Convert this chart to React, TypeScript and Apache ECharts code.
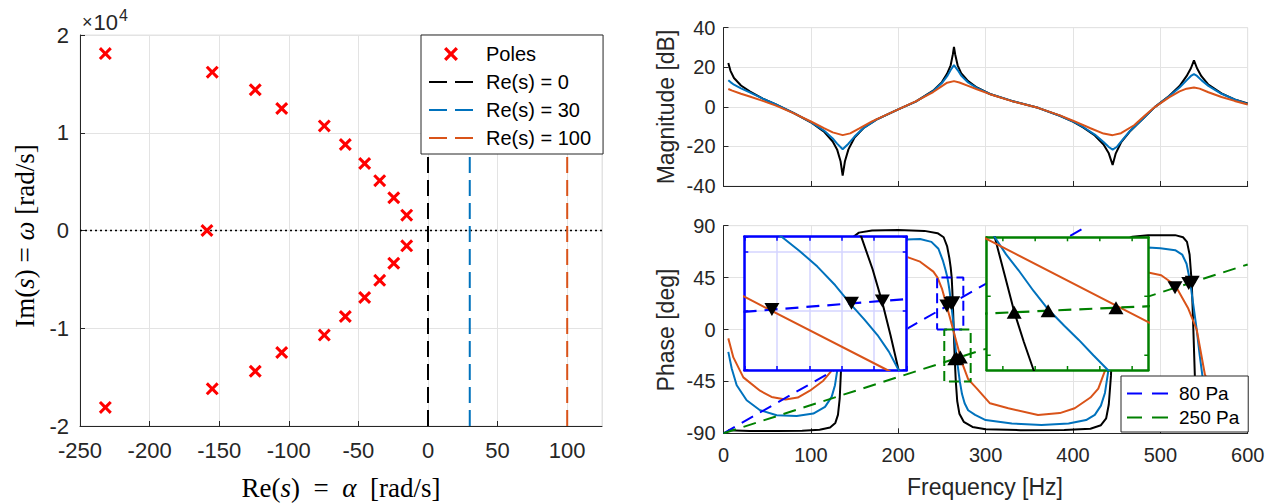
import React, { useEffect, useRef } from 'react';
import * as echarts from 'echarts';

// ---------- Left plot: pole map ----------
const poleRe = [-231.8, -155.0, -124.1, -105.1, -74.5, -59.4, -45.5, -34.7, -24.6, -15.3, -158.8,
  -15.3, -24.6, -34.7, -45.5, -59.4, -74.5, -105.1, -124.1, -155.0, -231.8];
const poleIm = [18100, 16200, 14400, 12480, 10700, 8800, 6850, 5100, 3350, 1570, 0,
  -1570, -3350, -5100, -6850, -8800, -10700, -12480, -14400, -16200, -18100];
const reLineNames = ['Re(s) = 0', 'Re(s) = 30', 'Re(s) = 100'];
const reLineValues = [0, 30, 100];
const reLineColors = ['#000000', '#0072BD', '#D95319'];
const leftXTicks = { min: -250, max: 125, interval: 50 };
const leftYTicks = { min: -20000, max: 20000, interval: 10000 };

// ---------- Right top: magnitude [Hz, dB] ----------
const magBlack = [[5.5, 22.2], [8, 18.2], [12, 14.6], [20, 10.8], [30, 7.8], [45, 4.2], [60, 1.2], [80, -3.0], [100, -7.8], [115, -12.5], [125, -17.5], [130, -21.5], [134, -27.5], [136.4, -34.8], [139, -27.5], [143, -21.5], [150, -15.5], [160, -10.8], [175, -6.5], [200, -1.3], [220, 2.6], [240, 8.2], [250, 12.5], [256, 16.8], [260, 21.0], [262.5, 26.5], [263.8, 30.3], [265.2, 26.5], [268, 21.0], [272, 17.0], [280, 13.0], [290, 9.8], [305, 6.5], [330, 3.0], [360, -0.5], [385, -4.5], [400, -7.5], [412, -10.5], [425, -14.5], [435, -19], [441, -23.5], [445.4, -29.4], [449, -23.5], [455, -18.0], [465, -12.5], [480, -6.0], [494, 0], [510, 5.5], [522, 10.5], [530, 15.5], [535, 19.5], [538.5, 23.5], [542, 19.5], [547, 15.5], [555, 11.2], [570, 6.8], [585, 3.8], [600, 1.7]];
const magBlue = [[5.5, 13.5], [8, 12.5], [12, 11.2], [20, 9.3], [30, 7.3], [45, 4.2], [60, 1.2], [80, -3.0], [100, -7.7], [115, -12.0], [125, -16.0], [130, -18.6], [136.4, -21.4], [143, -18.6], [150, -15.0], [160, -10.8], [175, -6.5], [200, -1.3], [220, 2.6], [240, 8.0], [250, 12.0], [256, 15.5], [260, 18.6], [263.8, 21.1], [268, 18.6], [272, 15.8], [280, 12.3], [290, 9.6], [305, 6.5], [330, 3.0], [360, -0.5], [385, -4.5], [400, -7.4], [412, -10.3], [425, -14.0], [435, -17.8], [441, -20.3], [445.4, -21.6], [450, -20.3], [455, -17.6], [465, -12.3], [480, -6.0], [494, 0], [510, 5.3], [522, 9.8], [530, 13.4], [535, 15.6], [538.5, 16.5], [542, 15.6], [547, 13.5], [555, 10.6], [570, 6.6], [585, 3.7], [600, 1.5]];
const magOrange = [[5.5, 9.0], [10, 8.2], [20, 6.6], [30, 5.2], [45, 3.0], [60, 0.6], [80, -3.2], [100, -7.4], [115, -10.8], [125, -12.9], [136.4, -14.3], [145, -13.4], [155, -11.0], [170, -7.3], [200, -1.3], [220, 2.8], [240, 7.5], [250, 10.5], [256, 12.2], [263.8, 13.0], [270, 12.3], [280, 10.6], [290, 8.9], [305, 6.4], [330, 2.9], [360, -0.5], [385, -4.3], [400, -7.0], [420, -10.8], [435, -13.5], [445.4, -14.3], [455, -13.3], [470, -9.3], [482, -4.5], [494, 0], [510, 4.8], [522, 7.8], [530, 9.2], [538.5, 9.8], [545, 9.2], [555, 7.4], [570, 5.0], [585, 3.0], [600, 1.2]];

// ---------- Right bottom: phase [Hz, deg] ----------
const phBlack = [[5.5, -87.3], [30, -88], [60, -88], [90, -87.8], [110, -87], [122, -85], [128, -81], [131, -74], [133, -60], [134.5, -35], [136.4, 0], [138, 35], [140, 60], [143, 73], [148, 80], [155, 84], [170, 85.8], [200, 86.2], [230, 85.5], [245, 83.5], [252, 80], [256, 72], [258.5, 62], [260, 54], [261.2, 45], [261.9, 34], [262.5, 22.8], [263.0, 11.8], [263.5, 0], [264.1, -12.5], [264.7, -25.2], [265.3, -35.5], [265.9, -45], [267.5, -62], [270, -73], [275, -80], [285, -84.5], [300, -86.5], [340, -87.3], [390, -87.2], [420, -86], [432, -83], [438, -77], [441, -65], [443.5, -40], [445.4, 0], [447, 35], [449, 58], [452, 70], [458, 77], [468, 80.5], [486, 81.8], [517, 81.8], [526, 80], [530.5, 76], [533.5, 65], [536, 40], [537.8, 0], [539.5, -40], [542, -65], [546, -78], [555, -85], [575, -87.5], [600, -88]];
const phBlue = [[5.5, -19.4], [9.4, -33.8], [15.1, -48.3], [26.5, -61.3], [41.8, -70], [60.9, -74.3], [83.7, -74.9], [102.8, -72.9], [116.2, -67.1], [123.8, -58.4], [127.6, -48.3], [130.3, -35], [133, -18], [136.4, 0], [140, 20], [145, 40], [152, 55], [165, 66], [185, 73], [209.6, 78], [225, 78.5], [238, 76], [246, 70], [251, 60], [254, 52], [256.3, 45], [257.4, 40.2], [258.5, 34.9], [259.6, 28.6], [260.6, 21.9], [261.4, 17.0], [262.2, 11.8], [262.9, 6.2], [263.5, 0], [264.2, -5.8], [264.96, -11.1], [265.9, -18.2], [266.8, -24.4], [267.8, -30], [268.7, -34.8], [269.6, -40], [270.5, -45], [273, -56], [276, -64], [280, -70], [288, -74], [300, -78.5], [330, -81.5], [364, -82.7], [395, -81.5], [415, -78.5], [425, -74], [432, -66], [436.6, -55], [440, -38], [443, -18], [445.4, 0], [448, 20], [452, 40], [458, 55], [468, 64], [486, 71.1], [500, 70.5], [517, 68.8], [525, 65], [530, 57], [534, 42], [538, 20], [541.6, 0], [545, -22], [549, -45], [555, -62], [565, -73], [580, -79], [600, -82]];
const phOrange = [[5.5, -7.7], [11.3, -24.2], [22.7, -41.5], [41.8, -53.1], [55, -58.5], [71, -60.7], [85, -59], [98.9, -53.1], [114.2, -44.4], [123.8, -35.7], [127.6, -31.4], [132, -18], [136.4, 0], [142, 18], [150, 33], [165, 48], [185, 58], [209.7, 63], [225, 58.8], [240.2, 50.2], [245, 45], [250, 35.5], [254, 24.75], [262.8, 0], [273, -28.8], [280, -43], [289.8, -51], [305, -64], [326, -68.3], [360, -74.1], [385, -72.5], [402, -68.3], [420, -59], [429, -51.2], [437, -35], [441, -20], [445.4, 0], [450, 18], [460, 34], [472, 44], [486, 49.4], [501, 47], [517, 38.4], [532, 18.2], [541.6, 0], [551, -39], [560, -55], [575, -68], [600, -76]];

const line80 = [[0, -90], [417, 90]];
const line250 = [[0, -90], [600, 56.4]];
const tri80Down = [[255.7, 20.4], [260.6, 22.5], [262.5, 23.3]];
const tri250Up = [[264.7, -25.4], [266.8, -24.9], [271.0, -23.9]];
const tri250Down = [[516.8, 36.1], [532.5, 39.9], [536.5, 40.9]];
const box80 = [[244.5, 0], [274.5, 0], [274.5, 45], [244.5, 45], [244.5, 0]];
const box250 = [[252.7, 0], [282.9, 0], [282.9, -45], [252.7, -45], [252.7, 0]];

const inset1X = { min: 254, max: 264, interval: 2 };
const inset1Y = { min: 0, max: 45, interval: 20 };
const inset2X = { min: 263, max: 273 };
const inset2Y = { min: -45, max: 0 };
const inset2XGrid = [264, 266, 268, 270, 272];
const inset2YGrid = [-20, -40];

const SANS = '"Liberation Sans", Arial, Helvetica, sans-serif';
const SERIF = '"Liberation Serif", "Times New Roman", serif';
const AX = '#262626';
const GRIDC = '#e3e3e3';
const BLACK = '#000000';
const BLUE = '#0072BD';
const ORANGE = '#D95319';
const DBLUE = '#0000ff';
const DGREEN = '#008000';
const XPATH = 'path://M0,2.5L2.5,0L7.5,5L12.5,0L15,2.5L10,7.5L15,12.5L12.5,15L7.5,10L2.5,15L0,12.5L5,7.5Z';
const DASH_ICON_L = 'path://M0,0H18V2H0ZM26,0H44V2H26Z';
const DASH_ICON_R = 'path://M0,0H15V2H0ZM25,0H41V2H25Z';

function mainAxis(gridIndex: number, range: any, showLabel: boolean, fontSize: number, extra: any = {}) {
  return {
    type: 'value', gridIndex, ...range,
    axisLine: { show: true, onZero: false, lineStyle: { color: AX, width: 1 } },
    axisTick: { show: true, inside: true, length: 5, lineStyle: { color: AX } },
    axisLabel: { show: showLabel, fontSize, fontFamily: SANS, color: AX, ...(extra.axisLabel || {}) },
    splitLine: { show: true, lineStyle: { color: GRIDC, width: 1 } },
    ...(extra.axis || {}),
  };
}

function insetAxis(gridIndex: number, range: any, position: string, color: string, grid: string | null, ticks: boolean) {
  return {
    type: 'value', gridIndex, ...range, position, z: 11,
    axisLine: { show: true, onZero: false, lineStyle: { color, width: 2.5 } },
    axisTick: { show: ticks, inside: true, length: 4, lineStyle: { color, width: 1.5 } },
    axisLabel: { show: false },
    splitLine: { show: !!grid, lineStyle: { color: grid || '#fff', width: 1.5 } },
  };
}

function curve(name: string, data: number[][], color: string, xi: number, yi: number, z = 2, width = 2) {
  return { name, type: 'line', xAxisIndex: xi, yAxisIndex: yi, data, symbol: 'none', z, silent: true,
    lineStyle: { color, width }, itemStyle: { color } };
}

function dashed(name: string, data: number[][], color: string, xi: number, yi: number, dash: number[], z = 2, width = 2) {
  return { name, type: 'line', xAxisIndex: xi, yAxisIndex: yi, data, symbol: 'none', z, silent: true,
    lineStyle: { color, width, type: dash }, itemStyle: { color } };
}

function tris(name: string, data: number[][], xi: number, yi: number, down: boolean, z = 4) {
  return { name, type: 'scatter', xAxisIndex: xi, yAxisIndex: yi, data, symbol: 'triangle',
    symbolSize: [15, 13], symbolRotate: down ? 180 : 0, z, silent: true, itemStyle: { color: '#000', opacity: 1 } };
}

function tickMarks(name: string, data: number[][], size: number[], offset: number[]) {
  return { name, type: 'scatter', xAxisIndex: 5, yAxisIndex: 5, data, symbol: 'rect', symbolSize: size,
    symbolOffset: offset, clip: false, z: 12, silent: true, itemStyle: { color: DGREEN, opacity: 1 } };
}

export default function App() {
  const ref = useRef<HTMLDivElement>(null);
  useEffect(() => {
    const chart = echarts.init(ref.current!, null, { renderer: 'svg' });
    const poles = poleRe.map((r, i) => [r, poleIm[i]]);
    const series: any[] = [];
    // left plot
    series.push(dashed('zero', [[leftXTicks.min, 0], [leftXTicks.max, 0]], '#000', 0, 0, [2, 3], 2, 1.4));
    reLineNames.forEach((n, i) => {
      series.push(dashed(n, [[reLineValues[i], leftYTicks.min], [reLineValues[i], leftYTicks.max]], reLineColors[i], 0, 0, [16, 7], 2, 2));
    });
    series.push({ name: 'Poles', type: 'scatter', xAxisIndex: 0, yAxisIndex: 0, data: poles, symbol: XPATH,
      symbolSize: 13, z: 5, silent: true, itemStyle: { color: '#ff0000', opacity: 1 } });
    // magnitude
    series.push(curve('mk', magBlack, BLACK, 1, 1));
    series.push(curve('mb', magBlue, BLUE, 1, 1));
    series.push(curve('mo', magOrange, ORANGE, 1, 1));
    // phase main
    series.push(curve('pk', phBlack, BLACK, 2, 2));
    series.push(curve('pb', phBlue, BLUE, 2, 2));
    series.push(curve('po', phOrange, ORANGE, 2, 2));
    series.push(dashed('box80', box80, DBLUE, 2, 2, [10, 5], 3, 2));
    series.push(dashed('box250', box250, DGREEN, 2, 2, [10, 5], 3, 2));
    series.push(dashed('80 Pa', line80, DBLUE, 2, 2, [13, 8], 3, 2));
    series.push(dashed('250 Pa', line250, DGREEN, 2, 2, [13, 8], 3, 2));
    series.push(tris('t80', tri80Down, 2, 2, true));
    series.push(tris('t250u', tri250Up, 2, 2, false));
    series.push(tris('t250d', tri250Down, 2, 2, true));
    // inset 1
    series.push(curve('i1k', phBlack, BLACK, 3, 3, 12));
    series.push(curve('i1b', phBlue, BLUE, 3, 3, 12));
    series.push(curve('i1o', phOrange, ORANGE, 3, 3, 12));
    series.push(dashed('i1l', line80, DBLUE, 3, 3, [13, 8], 12, 2.2));
    series.push(tris('i1t', tri80Down, 3, 3, true, 13));
    // inset 2
    series.push({ name: 'i2grid', type: 'line', xAxisIndex: 5, yAxisIndex: 5, data: [[inset2X.min, inset2Y.min]],
      symbol: 'none', z: 11, silent: true, lineStyle: { width: 0 },
      markLine: { silent: true, symbol: 'none', label: { show: false }, animation: false,
        lineStyle: { color: '#d6ebd6', type: 'solid', width: 1.5 },
        data: [...inset2XGrid.map((v) => ({ xAxis: v })), ...inset2YGrid.map((v) => ({ yAxis: v }))] } });
    series.push(tickMarks('i2tb', inset2XGrid.map((v) => [v, inset2Y.min]), [1.5, 4], [0, -2]));
    series.push(tickMarks('i2tt', inset2XGrid.map((v) => [v, inset2Y.max]), [1.5, 4], [0, 2]));
    series.push(tickMarks('i2tl', inset2YGrid.map((v) => [inset2X.min, v]), [4, 1.5], [2, 0]));
    series.push(tickMarks('i2tr', inset2YGrid.map((v) => [inset2X.max, v]), [4, 1.5], [-2, 0]));
    series.push(curve('i2k', phBlack, BLACK, 5, 5, 12));
    series.push(curve('i2b', phBlue, BLUE, 5, 5, 12));
    series.push(curve('i2o', phOrange, ORANGE, 5, 5, 12));
    series.push(dashed('i2l', line250, DGREEN, 5, 5, [13, 8], 12, 2.2));
    series.push(tris('i2t', tri250Up, 5, 5, false, 13));

    const legendText = (fs: number, pad: number) => ({ fontSize: fs, lineHeight: fs, fontFamily: SANS, color: '#000', padding: [0, 0, 0, pad] });
    const centered = { align: 'center', verticalAlign: 'middle', textAlign: 'center', textVerticalAlign: 'middle' };
    const serifRich = (fs: number) => ({
      r: { fontFamily: SERIF, fontSize: fs, fill: '#000', color: '#000' },
      i: { fontFamily: SERIF, fontSize: fs, fontStyle: 'italic', fill: '#000', color: '#000' },
    });
    const expName = {
      name: '{a|×}{b|10}{c|4}', nameLocation: 'end', nameGap: 2,
      nameTextStyle: {
        align: 'left', verticalAlign: 'bottom', padding: [0, 0, 0, 2],
        rich: {
          a: { fontSize: 18, fontFamily: SANS, color: AX, lineHeight: 26, verticalAlign: 'bottom', padding: [0, 1, 2, 0] },
          b: { fontSize: 22, fontFamily: SANS, color: AX, lineHeight: 26, verticalAlign: 'bottom' },
          c: { fontSize: 16, fontFamily: SANS, color: AX, lineHeight: 16, verticalAlign: 'top', padding: [0, 0, 0, 1] },
        },
      },
    };
    const option: any = {
      animation: false,
      backgroundColor: '#ffffff',
      grid: [
        { left: 80, top: 35, width: 522, height: 391, show: true, borderColor: GRIDC, borderWidth: 1, backgroundColor: 'transparent' },
        { left: 723.5, top: 27.7, width: 524.2, height: 158.3, show: true, borderColor: GRIDC, borderWidth: 1, backgroundColor: 'transparent' },
        { left: 723.5, top: 225.7, width: 524.2, height: 207.6, show: true, borderColor: GRIDC, borderWidth: 1, backgroundColor: 'transparent' },
        { left: 744.3, top: 236.7, width: 162.4, height: 133.3, show: true, borderWidth: 0, backgroundColor: '#ffffff', z: 10 },
        { left: 986.7, top: 237.3, width: 161.6, height: 132.7, show: true, borderWidth: 0, backgroundColor: '#ffffff', z: 10 },
      ],
      xAxis: [
        mainAxis(0, leftXTicks, true, 22, { axisLabel: { margin: 13, showMaxLabel: false } }),
        mainAxis(1, { min: 0, max: 600, interval: 100 }, false, 20),
        mainAxis(2, { min: 0, max: 600, interval: 100 }, true, 20, { axisLabel: { margin: 12 } }),
        insetAxis(3, inset1X, 'bottom', DBLUE, '#d4d4ff', true),
        insetAxis(3, inset1X, 'top', DBLUE, null, true),
        insetAxis(4, inset2X, 'bottom', DGREEN, null, false),
        insetAxis(4, inset2X, 'top', DGREEN, null, false),
      ],
      yAxis: [
        mainAxis(0, leftYTicks, true, 22, { axisLabel: { margin: 11, formatter: (v: number) => String(v / 10000) }, axis: expName }),
        mainAxis(1, { min: -40, max: 40, interval: 20 }, true, 20, { axisLabel: { margin: 8 } }),
        mainAxis(2, { min: -90, max: 90, interval: 45 }, true, 20, { axisLabel: { margin: 8 } }),
        insetAxis(3, inset1Y, 'left', DBLUE, '#d4d4ff', true),
        insetAxis(3, inset1Y, 'right', DBLUE, null, true),
        insetAxis(4, inset2Y, 'left', DGREEN, null, false),
        insetAxis(4, inset2Y, 'right', DGREEN, null, false),
      ],
      legend: [
        { data: [
            { name: 'Poles', icon: XPATH, itemStyle: { color: '#ff0000', opacity: 1 } },
            ...reLineNames.map((n, i) => ({ name: n, icon: DASH_ICON_L, itemStyle: { color: reLineColors[i], opacity: 1 } })),
          ],
          orient: 'vertical', left: 421, top: 35, symbolKeepAspect: true,
          padding: [9, 12, 6, 8], itemWidth: 44, itemHeight: 14, itemGap: 8, backgroundColor: '#fff',
          borderColor: AX, borderWidth: 1, borderRadius: 0, selectedMode: false, textStyle: legendText(20, 8) },
        { data: [
            { name: '80 Pa', icon: DASH_ICON_R, itemStyle: { color: DBLUE, opacity: 1 } },
            { name: '250 Pa', icon: DASH_ICON_R, itemStyle: { color: DGREEN, opacity: 1 } },
          ],
          orient: 'vertical', left: 1121, top: 376, symbolKeepAspect: true,
          padding: [8, 9, 5, 6], itemWidth: 41, itemHeight: 14, itemGap: 5, backgroundColor: '#fff',
          borderColor: AX, borderWidth: 1, borderRadius: 0, selectedMode: false, textStyle: legendText(19, 6) },
      ],
      graphic: [
        { type: 'text', x: 341, y: 488, style: { text: '{r|Re(}{i|s}{r|)  =  }{i|α}{r|  [rad/s]}', ...centered, rich: serifRich(27) } },
        { type: 'text', x: 24.5, y: 236, rotation: Math.PI / 2, style: { text: '{r|Im(}{i|s}{r|) = }{i|ω}{r| [rad/s]}', ...centered, rich: serifRich(27) } },
        { type: 'text', x: 665.6, y: 107, rotation: Math.PI / 2, style: { text: 'Magnitude [dB]', fontSize: 23, fontFamily: SANS, fill: AX, ...centered } },
        { type: 'text', x: 665.6, y: 330, rotation: Math.PI / 2, style: { text: 'Phase [deg]', fontSize: 23, fontFamily: SANS, fill: AX, ...centered } },
        { type: 'text', x: 985, y: 487, style: { text: 'Frequency [Hz]', fontSize: 23, fontFamily: SANS, fill: AX, ...centered } },
      ],
      series,
    };
    chart.setOption(option);
    return () => chart.dispose();
  }, []);
  return <div ref={ref} style={{ position: 'absolute', left: 0, top: 0, width: 1275, height: 503, background: '#fff' }} />;
}
